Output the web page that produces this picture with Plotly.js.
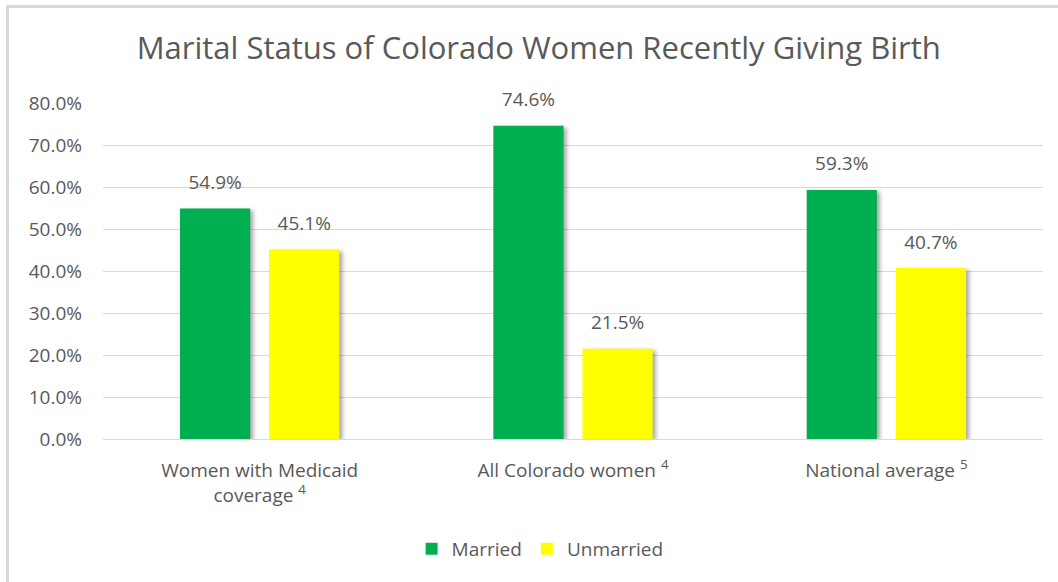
<!DOCTYPE html>
<html>
<head>
<meta charset="utf-8">
<script src="https://cdn.plot.ly/plotly-3.0.1.min.js"></script>
<style>
  html, body { margin: 0; padding: 0; background: #ffffff; width: 1058px; height: 582px; overflow: hidden; }
  #frame { position: absolute; left: 6px; top: 5px; border-top: 3px solid #d9d9d9; border-left: 3px solid #d9d9d9; background: #fff; }
  #chart { width: 1049px; height: 574px; }
  .barlayer .point path { filter: drop-shadow(3px 2px 2px rgba(0,0,0,0.35)); }
</style>
</head>
<body>
<div id="frame"><div id="chart"></div></div>
<script>
const categories = ["Women with Medicaid<br>coverage <sup>4</sup>", "All Colorado women <sup>4</sup>", "National average <sup>5</sup>"];
const married = [0.549, 0.746, 0.593];
const unmarried = [0.451, 0.215, 0.407];
const seriesNames = ["Married", "Unmarried"];
const tickVals = [0, 0.1, 0.2, 0.3, 0.4, 0.5, 0.6, 0.7, 0.8];

const FONT = "Open Sans, Noto Sans, sans-serif";
const TXT = "#595959";
const colors = ["#00B050", "#FFFF00"];
const series = [married, unmarried];

const labelFont = {family: FONT, size: 19, color: TXT};

const traces = [];
series.forEach((vals, i) => {
  traces.push({type: "bar", name: seriesNames[i], x: categories, y: vals,
    marker: {color: colors[i]}, offsetgroup: String(i), hoverinfo: "skip"});
});
series.forEach((vals, i) => {
  traces.push({type: "scatter", mode: "markers+text", x: categories, y: vals,
    offsetgroup: String(i), showlegend: false, cliponaxis: false,
    marker: {size: 22, opacity: 0, color: colors[i]},
    text: vals.map(v => (v * 100).toFixed(1) + "%"),
    textposition: "top center", textfont: labelFont, hoverinfo: "skip"});
});

const layout = {
  width: 1049, height: 574,
  margin: {l: 94, r: 15, t: 95, b: 143},
  paper_bgcolor: "#ffffff", plot_bgcolor: "#ffffff",
  font: {family: FONT, color: TXT, size: 19},
  title: {text: "Marital Status of Colorado Women Recently Giving Birth",
          font: {family: FONT, size: 31, color: TXT},
          x: 0.505, xanchor: "center", y: 0.93, yanchor: "middle"},
  barmode: "group", bargap: 0.431, bargroupgap: 0.213,
  scattermode: "group", scattergap: 0.431,
  xaxis: {type: "category", showgrid: false, zeroline: false, showline: false,
          ticks: "", tickfont: {family: FONT, size: 19, color: TXT},
          ticklabelstandoff: 18},
  yaxis: {range: [0, 0.8], tickvals: tickVals, tickformat: ".1%",
          showgrid: true, gridcolor: "#d9d9d9", gridwidth: 1,
          zeroline: true, zerolinecolor: "#d9d9d9", zerolinewidth: 1,
          showline: false, ticks: "", ticklabelstandoff: 20,
          tickfont: {family: FONT, size: 19, color: TXT}},
  showlegend: true,
  legend: {orientation: "h", x: 0.465, xanchor: "center", y: -0.327, yanchor: "middle",
           font: {family: FONT, size: 19, color: TXT}, traceorder: "normal",
           itemwidth: 30, bgcolor: "rgba(0,0,0,0)"}
};

Plotly.newPlot("chart", traces, layout, {displayModeBar: false, staticPlot: true});
</script>
</body>
</html>
